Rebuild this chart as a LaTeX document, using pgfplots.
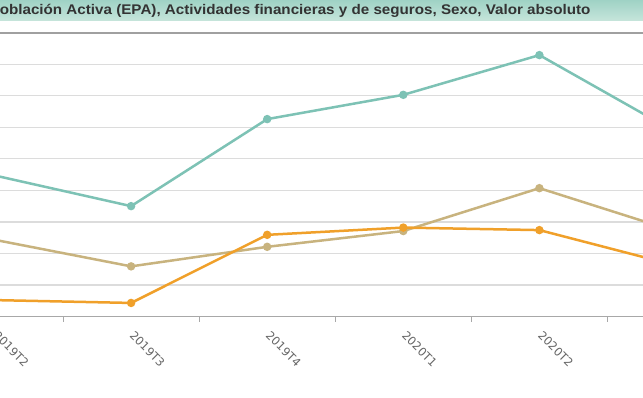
\documentclass[border=0pt]{standalone}
\usepackage{fontspec}
\setmainfont{Liberation Sans}
\newfontfamily\labfont{DejaVu Sans}
\usepackage{graphicx}
\usepackage{pgfplots}
\pgfplotsset{compat=1.18}
\definecolor{cteal}{HTML}{7DC2B5}
\definecolor{corange}{HTML}{F0A02A}
\definecolor{ctan}{HTML}{C8B37E}
\definecolor{cgrid}{HTML}{DCDCDC}
\definecolor{caxis}{HTML}{A8A8A8}
\definecolor{ctop}{HTML}{A0A0A0}
\definecolor{ctitle}{HTML}{333333}
\definecolor{barTop}{HTML}{9FD2C5}
\definecolor{barBot}{HTML}{C6E5DB}
\definecolor{clab}{HTML}{666666}
\newlength\tw
\begin{document}%
\settowidth\tw{\fontsize{14pt}{16pt}\selectfont\bfseries oblación Activa (EPA), Actividades financieras y de seguros, Sexo, Valor absoluto}%
\pgfmathsetmacro\sx{590.7/\tw}%
\begin{tikzpicture}[x=1pt,y=1pt]
\useasboundingbox (0,0) rectangle (643,397);
\clip (0,0) rectangle (643,397);
\fill[white] (0,0) rectangle (643,397);
\shade[top color=barTop, bottom color=barBot] (0,376.3) rectangle (643,397);
\node[anchor=base east, text=ctitle, inner sep=0pt] at (590.7,382) {\scalebox{\sx}[1]{\fontsize{14pt}{16pt}\selectfont\bfseries Población Activa (EPA), Actividades financieras y de seguros, Sexo, Valor absoluto}};
\begin{axis}[
  at={(-73.05pt,80.5pt)}, anchor=south west,
  scale only axis, width=816.6pt, height=283.8pt,
  xmin=-0.5, xmax=5.5, ymin=15, ymax=105,
  ytick={15,25,...,105}, yticklabels={},
  ymajorgrids, major grid style={cgrid, line width=1.2pt},
  axis line style={draw=none},
  xtick={0,...,5},
  xticklabels={2019T2,2019T3,2019T4,2020T1,2020T2,2020T3},
  major tick length=0pt,
  minor xtick={-0.5,0.5,...,5.5},
  minor tick length=5pt,
  minor tick style={caxis, line width=1pt},
  tick align=outside, tick pos=bottom,
  xticklabel style={yshift=-9pt, xshift=4pt, rotate=-45, anchor=north west, font=\labfont\fontsize{11.5pt}{13pt}\selectfont, text=clab},
  clip=false,
]
\draw[caxis, line width=1.8pt] (rel axis cs:0,0) -- (rel axis cs:1,0);
\draw[ctop, line width=2.2pt] (rel axis cs:0,1) -- (rel axis cs:1,1);
\addplot[ctan, line width=2.5pt, mark=*, mark size=2.9pt] coordinates {(0,39.3) (1,30.9) (2,37.1) (3,42.1) (4,55.7) (5,42.0)};
\addplot[corange, line width=2.5pt, mark=*, mark size=2.9pt] coordinates {(0,20.2) (1,19.3) (2,40.9) (3,43.2) (4,42.4) (5,31.2)};
\addplot[cteal, line width=2.5pt, mark=*, mark size=2.9pt] coordinates {(0,59.7) (1,50.0) (2,77.6) (3,85.3) (4,97.9) (5,73.5)};
\end{axis}
\end{tikzpicture}%
\end{document}
